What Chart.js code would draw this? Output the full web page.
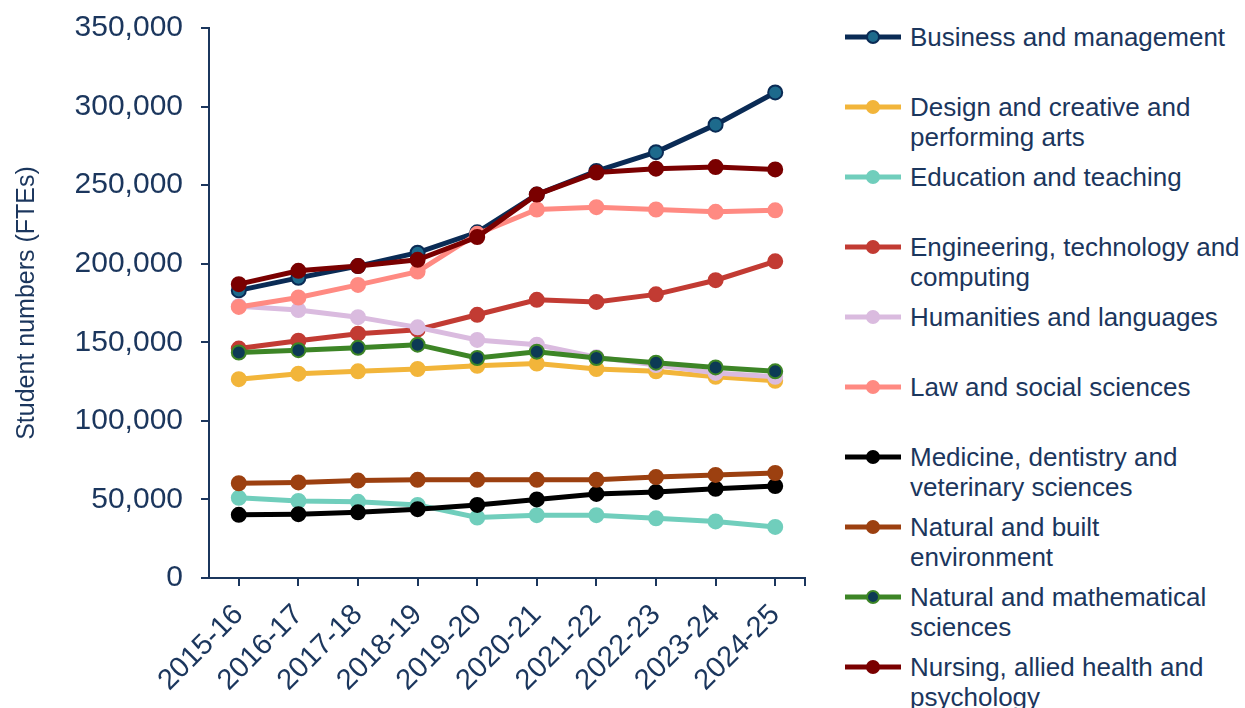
<!DOCTYPE html>
<html>
<head>
<meta charset="utf-8">
<script src="https://cdn.jsdelivr.net/npm/chart.js@4"></script>
<style>
  html, body { margin: 0; padding: 0; background: #fff; }
  #wrap { position: relative; width: 1245px; height: 708px; font-family: "Liberation Sans", Arial, sans-serif; }
  #box { position: absolute; left: 0; top: 0; width: 830px; height: 708px; }
  #legenda { position: absolute; left: 843px; top: 22px; width: 400px; color: #1B365D; font-size: 26px; }
  .item { position: relative; height: 70px; }
  .item .txt { position: absolute; left: 67px; top: 0; line-height: 30px; white-space: pre; }
  .item canvas { position: absolute; left: 0; top: 5px; }
</style>
</head>
<body>
<div id="wrap">
  <div id="box"><canvas id="grafico"></canvas></div>
  <div id="legenda"></div>
</div>
<script>
// anos letivos (eixo x)
const anos = ['2015-16', '2016-17', '2017-18', '2018-19', '2019-20', '2020-21', '2021-22', '2022-23', '2023-24', '2024-25'];

// nomes das séries (\n = quebra na legenda)
const nomes = [
  'Business and management',
  'Design and creative and\nperforming arts',
  'Education and teaching',
  'Engineering, technology and\ncomputing',
  'Humanities and languages',
  'Law and social sciences',
  'Medicine, dentistry and\nveterinary sciences',
  'Natural and built\nenvironment',
  'Natural and mathematical\nsciences',
  'Nursing, allied health and\npsychology'
];

// valores (FTEs)
const business    = [183000, 191000, 198500, 207000, 220000, 244000, 259000, 271000, 288500, 309000];
const design      = [126500, 130000, 131500, 133000, 135000, 136500, 133000, 131500, 128000, 125500];
const education   = [51000, 49000, 48500, 46500, 38500, 40000, 40000, 38000, 36000, 32500];
const engineering = [146000, 151000, 155500, 158000, 167500, 177000, 175700, 180500, 189500, 201500];
const humanities  = [173000, 170500, 166000, 159500, 151500, 148500, 140500, 135500, 130500, 128000];
const law         = [172500, 178500, 186500, 195000, 219000, 234500, 236000, 234500, 233000, 234000];
const medicine    = [40200, 40600, 41800, 43800, 46500, 50000, 53500, 54800, 56800, 58500];
const builtEnv    = [60300, 60800, 62000, 62500, 62500, 62500, 62500, 64200, 65600, 66800];
const mathSci     = [143500, 145000, 146500, 148500, 140000, 144000, 140000, 137000, 134000, 131500];
const nursing     = [187000, 195500, 198500, 202500, 217000, 244000, 258000, 260500, 261500, 260000];

const valores = [business, design, education, engineering, humanities, law, medicine, builtEnv, mathSci, nursing];

// cores: linha e preenchimento do marcador
const coresLinha = ['#0A2B55', '#F2B53A', '#70CEBC', '#C23B33', '#DABBDF', '#FF8A82', '#000000', '#9C4010', '#3D8526', '#7A0000'];
const coresPonto = ['#1D6A8C', '#F2B53A', '#70CEBC', '#C23B33', '#DABBDF', '#FF8A82', '#000000', '#9C4010', '#0C3A55', '#7A0000'];

const azul = '#1B365D';
const fonte = '"Liberation Sans", Arial, sans-serif';

// marca final do eixo x (como no original)
const marcaFinal = {
    id: 'marcaFinal',
    afterDraw(chart) {
        const { ctx, chartArea } = chart;
        ctx.save();
        ctx.strokeStyle = azul;
        ctx.lineWidth = 2;
        ctx.beginPath();
        ctx.moveTo(chartArea.right, chartArea.bottom);
        ctx.lineTo(chartArea.right, chartArea.bottom + 8);
        ctx.stroke();
        ctx.restore();
    }
};

function grafico(canvas = 'grafico') {
    const canvasElement = document.getElementById(canvas);
    if (!canvasElement) return;

    const datasets = nomes.map((nome, i) => ({
        label: nome,
        data: valores[i],
        borderColor: coresLinha[i],
        backgroundColor: coresPonto[i],
        pointBorderColor: coresLinha[i],
        pointBackgroundColor: coresPonto[i],
        borderWidth: 5,
        pointRadius: 7,
        pointBorderWidth: 2,
        tension: 0,
        order: nomes.length - i // séries posteriores por cima (como no Excel)
    }));

    const ctx = canvasElement.getContext('2d');
    const chart = new Chart(ctx, {
        type: 'line',
        data: { labels: anos, datasets: datasets },
        plugins: [marcaFinal],
        options: {
            responsive: true,
            maintainAspectRatio: false,
            animation: false,
            layout: { padding: { top: 28, right: 25, left: 0, bottom: 0 } },
            scales: {
                x: {
                    offset: true,
                    grid: { display: true, drawOnChartArea: false, drawTicks: true, tickLength: 8, color: azul, lineWidth: 2, offset: false },
                    border: { color: azul, width: 2 },
                    ticks: {
                        color: azul,
                        font: { size: 29, family: fonte },
                        maxRotation: 45, minRotation: 45, padding: 12, autoSkip: false
                    },
                    afterFit: (scale) => { scale.height = 130; }
                },
                y: {
                    min: 0, max: 350000,
                    grid: { display: true, drawOnChartArea: false, drawTicks: true, tickLength: 8, color: azul, lineWidth: 2 },
                    border: { color: azul, width: 2 },
                    ticks: {
                        stepSize: 50000,
                        color: azul,
                        padding: 18,
                        font: { size: 30, family: fonte },
                        callback: (v) => v.toLocaleString('en-GB')
                    },
                    title: {
                        display: true,
                        text: 'Student numbers (FTEs)',
                        color: azul,
                        padding: { top: 12, bottom: 0 },
                        font: { size: 25, family: fonte }
                    },
                    afterFit: (scale) => {
                        scale.width = 209;
                        scale.paddingTop = 0;
                        scale.paddingBottom = 0;
                    }
                }
            },
            plugins: {
                legend: { display: false },
                tooltip: { enabled: false }
            }
        }
    });
    return chart;
}

// legenda em HTML, gerada a partir dos datasets
function legenda(chart) {
    const alvo = document.getElementById('legenda');
    chart.data.datasets.forEach(ds => {
        const item = document.createElement('div');
        item.className = 'item';
        const c = document.createElement('canvas');
        c.width = 60; c.height = 20;
        const g = c.getContext('2d');
        g.strokeStyle = ds.borderColor;
        g.lineWidth = 5;
        g.beginPath(); g.moveTo(2, 10); g.lineTo(58, 10); g.stroke();
        g.beginPath(); g.arc(30, 10, 6, 0, Math.PI * 2);
        g.fillStyle = ds.pointBackgroundColor; g.fill();
        g.lineWidth = 2; g.strokeStyle = ds.pointBorderColor; g.stroke();
        const t = document.createElement('div');
        t.className = 'txt';
        t.textContent = ds.label;
        item.appendChild(c);
        item.appendChild(t);
        alvo.appendChild(item);
    });
}

const ch = grafico();
legenda(ch);
</script>
</body>
</html>
